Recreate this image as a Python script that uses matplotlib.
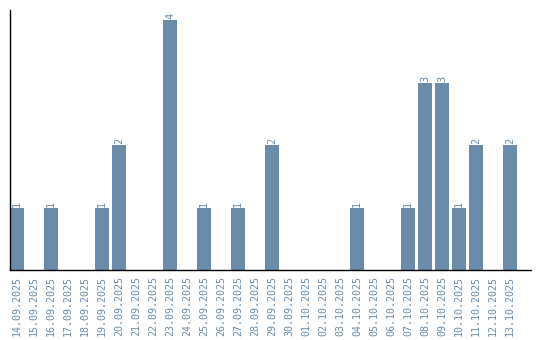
import matplotlib
matplotlib.use("Agg")
import matplotlib.pyplot as plt

# dane
dates = ["14.09.2025", "15.09.2025", "16.09.2025", "17.09.2025", "18.09.2025",
         "19.09.2025", "20.09.2025", "21.09.2025", "22.09.2025", "23.09.2025",
         "24.09.2025", "25.09.2025", "26.09.2025", "27.09.2025", "28.09.2025",
         "29.09.2025", "30.09.2025", "01.10.2025", "02.10.2025", "03.10.2025",
         "04.10.2025", "05.10.2025", "06.10.2025", "07.10.2025", "08.10.2025",
         "09.10.2025", "10.10.2025", "11.10.2025", "12.10.2025", "13.10.2025"]
counts = [1, 0, 1, 0, 0, 1, 2, 0, 0, 4,
          0, 1, 0, 1, 0, 2, 0, 0, 0, 0,
          1, 0, 0, 1, 3, 3, 1, 2, 0, 2]

color = "#6a8caa"
plt.rcParams["font.family"] = "DejaVu Sans Mono"

fig = plt.figure(figsize=(5.4, 3.4), dpi=100)
ax = fig.add_axes([10 / 540, 70 / 340, 521 / 540, 260 / 340])

w = 14 / 17
pos = list(range(len(dates)))
ax.bar(pos, counts, width=w, align="edge", color=color)

for i, c in enumerate(counts):
    if c > 0:
        ax.text(i + w / 2, c + 0.015, str(c), rotation=90, ha="center", va="bottom",
                fontsize=7.4, color=color)

ax.set_xlim(0, 521 / 17)
ax.set_ylim(0, 4 + 10 / 62.5)
ax.set_xticks([p + w / 2 for p in pos])
ax.set_xticklabels(dates, rotation=90, fontsize=7.2, color=color)
ax.tick_params(axis="x", length=0, pad=4)
ax.set_yticks([])
for s in ["top", "right"]:
    ax.spines[s].set_visible(False)
for s in ["left", "bottom"]:
    ax.spines[s].set_linewidth(1)

fig.savefig("out.png", dpi=100)
